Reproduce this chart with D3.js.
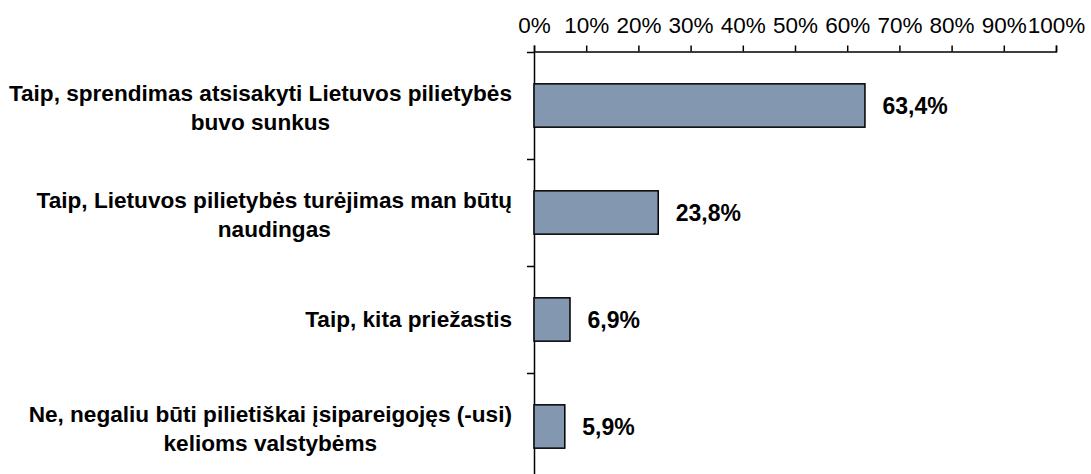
<html>
<head>
<meta charset="utf-8">
<script src="https://d3js.org/d3.v7.min.js"></script>
<style>
  body { margin: 0; background: #ffffff; }
  text { font-family: "Liberation Sans", Arial, sans-serif; fill: #000; }
</style>
</head>
<body>
<div id="chart"></div>
<script>
// categories (each one split into its wrapped lines) and values
var categories = [
  ["Taip, sprendimas atsisakyti Lietuvos pilietybės", "buvo sunkus"],
  ["Taip, Lietuvos pilietybės turėjimas man būtų", "naudingas"],
  ["Taip, kita priežastis"],
  ["Ne, negaliu būti pilietiškai įsipareigojęs (-usi)", "kelioms valstybėms"]
];
var values = [0.634, 0.238, 0.069, 0.059];
var valueLabels = ["63,4%", "23,8%", "6,9%", "5,9%"];
var xTicks = [0, 0.1, 0.2, 0.3, 0.4, 0.5, 0.6, 0.7, 0.8, 0.9, 1];

var width = 1091, height = 474;

var svg = d3.select("#chart")
  .append("svg")
    .attr("width", width)
    .attr("height", height);

var x = d3.scaleLinear()
  .domain([0, 1])
  .range([534, 1056]);

var keys = categories.map(function(d, i) { return i; });
var y = d3.scaleBand()
  .domain(keys)
  .range([52, 480]);

// boundaries between categories, for the left ticks
var yEdge = d3.scaleLinear()
  .domain([0, categories.length])
  .range([52, 480]);

// top axis
var xAxis = svg.append("g")
  .attr("transform", "translate(0,51.5)")
  .call(d3.axisTop(x)
    .tickValues(xTicks)
    .tickFormat(d3.format(".0%"))
    .tickSize(6)
    .tickPadding(13));

xAxis.selectAll("text")
  .style("font-size", "22.5px")
  .style("font-family", "'Liberation Sans', Arial, sans-serif")
  .attr("fill", "#000");

// left axis
var yAxis = svg.append("g")
  .attr("transform", "translate(534,0)")
  .call(d3.axisLeft(yEdge)
    .tickValues(d3.range(categories.length + 1))
    .tickFormat("")
    .tickSize(7)
    .tickSizeOuter(0));

svg.selectAll(".domain, .tick line")
  .attr("stroke", "#000")
  .attr("stroke-width", 1.5);

// bars
var barH = y.bandwidth() * 0.405;
svg.append("g")
  .selectAll("rect")
  .data(values)
  .enter()
  .append("rect")
    .attr("x", x(0))
    .attr("y", function(d, i) { return y(i) + y.bandwidth() / 2 - barH / 2; })
    .attr("width", function(d) { return x(d) - x(0); })
    .attr("height", barH)
    .attr("fill", "#8497b0")
    .attr("stroke", "#000")
    .attr("stroke-width", 1.5);

// value labels
svg.append("g")
  .selectAll("text")
  .data(values)
  .enter()
  .append("text")
    .attr("x", function(d) { return x(d) + 17.5; })
    .attr("y", function(d, i) { return y(i) + y.bandwidth() / 2; })
    .attr("dy", "0.35em")
    .style("font-size", "23px")
    .style("font-weight", "bold")
    .text(function(d, i) { return valueLabels[i]; });

// category labels: lines centred on each other, block right-aligned
var lineH = 29.5;
var labels = svg.append("g")
  .selectAll("text")
  .data(categories)
  .enter()
  .append("text")
    .style("font-size", "22.6px")
    .style("font-weight", "bold")
    .attr("text-anchor", "middle");

labels.each(function(lines, i) {
  var t = d3.select(this);
  var cy = y(i) + y.bandwidth() / 2 + (lines.length > 1 ? 2 : 0);
  var y0 = cy - (lines.length - 1) * lineH / 2;
  lines.forEach(function(line, j) {
    t.append("tspan")
      .attr("y", y0 + j * lineH)
      .attr("dy", "0.35em")
      .text(line);
  });
  var w = d3.max(t.selectAll("tspan").nodes(), function(n) { return n.getComputedTextLength(); });
  t.selectAll("tspan").attr("x", 512 - w / 2);
});
</script>
</body>
</html>
